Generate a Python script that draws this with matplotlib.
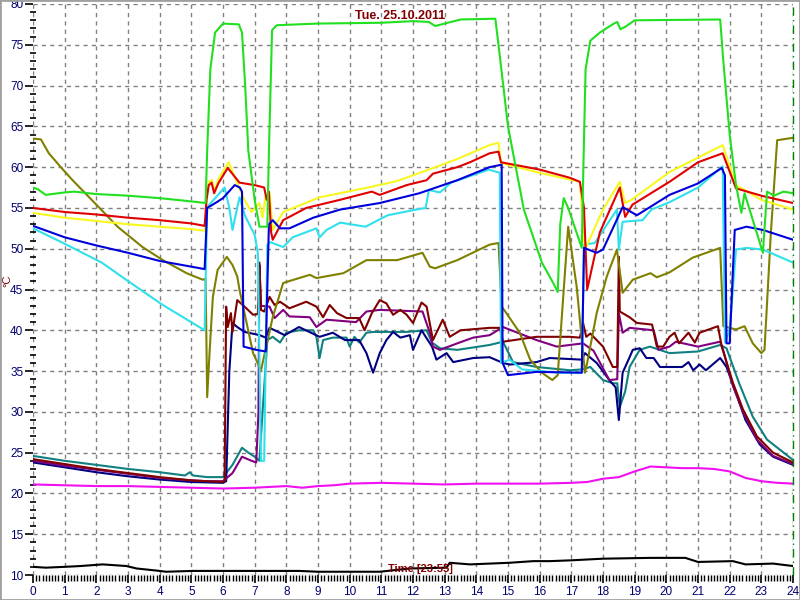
import matplotlib
matplotlib.use("Agg")
import matplotlib.pyplot as plt
from matplotlib.patches import Rectangle
from matplotlib.ticker import MultipleLocator

# ---------------- data (hours, °C) ----------------
green_t = [0, 0.15, 0.4, 1.0, 1.3, 2, 3, 4, 5, 5.45, 5.5, 5.6, 5.75, 6.0, 6.5, 6.6, 6.7, 6.8, 7.0, 7.15, 7.4,
           7.45, 7.55, 7.7, 9, 11, 12, 12.5, 12.7, 12.9, 13.5, 14.6, 14.7, 15.0, 15.5, 16.07, 16.4, 16.57,
           16.65, 16.76, 16.9, 17.33, 17.38, 17.45, 17.6, 17.9, 18.3, 18.45, 18.55, 18.7, 19, 21.7, 21.8,
           22.0, 22.2, 22.37, 22.47, 23.05, 23.18, 23.4, 23.7, 24]
green_v = [57.5, 57.3, 56.6, 56.9, 57.0, 56.7, 56.5, 56.2, 55.8, 55.6, 62, 72, 76.5, 77.6, 77.5, 76.5, 70, 62,
           56, 52.7, 52.7, 62, 76.8, 77.4, 77.6, 77.7, 77.9, 77.8, 77.3, 77.5, 78.1, 78.2, 75, 65, 54.8, 48.3,
           46, 44.7, 53, 56.2, 55, 50.1, 60, 72, 75.5, 76.5, 77.5, 77.8, 76.9, 77.2, 78, 78.1, 73, 64, 57.8,
           54.4, 56.8, 49.5, 57, 56.5, 57.0, 56.8]

red_t = [0, 1, 2, 3, 4, 5, 5.42, 5.48, 5.55, 5.64, 5.72, 5.85, 6.15, 6.52, 7.0, 7.3, 7.38, 7.45, 7.52, 7.57,
         7.9, 8.63, 9.7, 10.7, 10.95, 11.8, 12.43, 12.63, 13.4, 13.8, 14.42, 14.7, 14.78, 16.0, 16.95, 17.27,
         17.4, 17.5, 17.9, 18.53, 18.7, 18.93, 20.1, 21.0, 21.78, 22.2, 23, 24]
red_v = [55.0, 54.5, 54.2, 53.8, 53.5, 53.1, 52.8, 56, 57.8, 58.1, 56.8, 58.0, 59.9, 58.1, 57.8, 57.5, 56, 57,
         52, 51.1, 53.5, 55.0, 56.0, 57.0, 56.6, 57.8, 58.4, 59.2, 60.0, 60.6, 61.7, 61.9, 60.6, 59.7, 58.7,
         58.2, 55, 45, 52, 57.5, 53.9, 55.4, 58.2, 60.6, 61.7, 57.4, 56.5, 55.6]

yellow_t = [0, 1, 2, 3, 4, 5, 5.42, 5.48, 5.55, 5.65, 5.72, 5.85, 6.18, 6.45, 6.68, 6.9, 7.15, 7.25, 7.35,
            7.47, 7.57, 7.9, 9.05, 10.7, 11.5, 12.5, 13.4, 14.42, 14.7, 14.78, 16.0, 17.27, 17.43, 18.0,
            18.53, 18.7, 18.9, 20.1, 21.78, 22.2, 23, 24]
yellow_v = [54.4, 53.8, 53.4, 53.0, 52.7, 52.4, 52.2, 56, 58.2, 58.4, 57, 58.5, 60.6, 58, 56, 54.5, 55.6, 53.8,
            56.6, 56.8, 52.3, 54.5, 56.3, 57.6, 58.3, 59.7, 61.0, 62.7, 63.0, 60.5, 59.3, 58.2, 49.9, 54.8,
            58.2, 55.6, 56, 59.4, 62.7, 57.8, 56, 54.8]

blue_t = [0, 1, 2, 3, 4, 5, 5.42, 5.5, 5.8, 6.0, 6.37, 6.53, 6.6, 6.65, 7.05, 7.35, 7.45, 7.57, 7.8, 8.1,
          8.85, 9.7, 10.95, 12.2, 13.4, 14.42, 14.8, 14.83, 15.0, 15.9, 17.33, 17.4, 17.8, 18.0, 18.62,
          19.07, 20.1, 21.0, 21.75, 21.85, 21.9, 22.0, 22.16, 22.53, 23.05, 24]
blue_v = [52.8, 51.4, 50.4, 49.5, 48.5, 47.8, 47.5, 55, 55.7, 56.2, 57.8, 57.5, 57.0, 38, 37.6, 37.4, 53.0,
          53.5, 52.5, 52.5, 53.8, 54.8, 55.6, 56.8, 58.4, 60.0, 60.3, 36, 34.5, 34.9, 34.8, 50.1, 49.5, 49.9,
          55.1, 54.1, 56.6, 58, 59.9, 59, 38.4, 38.4, 52.3, 52.7, 52.3, 51.1]

cyan_t = [0, 0.9, 2.17, 3.05, 4.1, 5.42, 5.5, 6.05, 6.2, 6.3, 6.52, 6.7, 7.0, 7.1, 7.2, 7.3, 7.4, 7.5, 7.7,
          7.9, 8.2, 8.95, 9.05, 9.27, 9.7, 10.5, 11.2, 12.1, 12.4, 12.5, 12.85, 13.2, 14.4, 14.74, 14.78,
          15.05, 15.45, 16.63, 17.33, 17.4, 17.74, 18.44, 18.5, 18.62, 19.25, 19.53, 20.1, 21.0, 21.78,
          21.85, 22.0, 22.2, 22.53, 23.05, 24]
cyan_v = [52.5, 50.8, 48.3, 45.9, 43.1, 40.0, 55.1, 57.5, 55, 52.3, 56.3, 54, 51.7, 49.5, 24, 24, 50.5, 50.8,
          50.5, 50.2, 51.4, 52.5, 51.4, 52.3, 53.2, 52.7, 54.1, 54.8, 55, 57.2, 56.9, 58.1, 59.7, 59.3, 36,
          36.4, 35.2, 34.8, 34.8, 50.5, 50.7, 54.8, 49.9, 53.3, 53.5, 54.8, 55.7, 57.5, 60.1, 38.5, 40, 49.9,
          50.1, 49.9, 48.3]

olive_t = [0, 0.25, 0.5, 0.9, 1.25, 1.7, 2.1, 2.67, 3.46, 4.1, 4.85, 5.36, 5.45, 5.5, 5.58, 5.68, 5.83,
           6.12, 6.3, 6.45, 6.52, 6.95, 7.2, 7.57, 7.9, 8.74, 8.95, 9.8, 10.53, 11.5, 12.3, 12.53, 12.7,
           13.4, 14.42, 14.7, 14.8, 14.95, 15.37, 15.7, 16.07, 16.4, 16.57, 16.9, 17.17, 17.43, 17.5, 17.8,
           18.12, 18.44, 18.62, 18.94, 19.5, 19.7, 20.1, 20.83, 21.7, 21.8, 22.2, 22.47, 22.73, 23.0, 23.1,
           23.3, 23.5, 24]
olive_v = [63.5, 63.4, 61.7, 59.9, 58.4, 56.6, 55.0, 52.7, 50.2, 48.6, 47.0, 46.2, 46.3, 31.8, 37.6, 44.1,
           47.4, 49.0, 48.0, 46.6, 45, 37.2, 35.1, 41.6, 45.8, 46.8, 46.4, 47.0, 48.6, 48.6, 49.5, 47.8, 47.6,
           48.6, 50.5, 50.7, 42.9, 42.1, 39.7, 36.4, 34.8, 33.9, 34.5, 52.7, 45.3, 34.8, 36, 42.1, 46.6, 49.9,
           44.6, 46.2, 47.0, 46.5, 47.1, 48.9, 50.1, 40.5, 40.1, 40.5, 38.4, 37.2, 37.6, 51.9, 63.3, 63.6]

maroon_t = [0, 1, 2, 3, 4, 5, 6.0, 6.05, 6.1, 6.15, 6.25, 6.3, 6.45, 6.68, 6.95, 7.1, 7.15, 7.2, 7.3, 7.47,
            7.63, 7.8, 8.1, 8.63, 8.95, 9.16, 9.37, 9.6, 9.9, 10.3, 10.47, 10.7, 10.95, 11.16, 11.37, 11.6,
            11.8, 12.0, 12.27, 12.43, 12.63, 12.94, 13.16, 13.5, 14.42, 14.74, 14.84, 15.9, 16.95, 17.27,
            17.37, 17.47, 17.6, 18.0, 18.31, 18.45, 18.5, 18.53, 18.84, 19.07, 19.55, 19.7, 19.9, 20.1,
            20.26, 20.4, 20.7, 20.9, 21.05, 21.63, 21.75, 22.1, 22.42, 22.86, 23.37, 24]
maroon_v = [24.2, 23.6, 23.0, 22.5, 22.0, 21.6, 21.4, 21.5, 42.9, 40.4, 42.1, 39.8, 43.7, 42.9, 41.9, 42.0,
            48.3, 42.5, 42.3, 44.1, 43.1, 43.5, 42.7, 43.5, 42.9, 41.6, 43.1, 42.1, 41.5, 41.5, 40.0, 42.1,
            43.7, 43.3, 41.9, 42.5, 41.9, 40.9, 43.4, 42.9, 38.8, 41.3, 39.2, 40.0, 40.3, 40.3, 38.6, 39.2,
            39.2, 39.1, 40.9, 39.2, 39.6, 38.0, 35.5, 35.5, 49.0, 42.3, 41.6, 40.9, 40.7, 38.0, 38.0, 39.2,
            39.7, 38.4, 39.7, 38.5, 39.7, 40.5, 38, 33.6, 30.3, 27.0, 25.0, 23.8]

purple_t = [0, 1, 2, 3, 4, 5, 5.5, 6.0, 6.3, 6.6, 6.9, 7.05, 7.12, 7.15, 7.2, 7.47, 7.63, 7.9, 8.1, 8.74,
            8.95, 9.27, 10.2, 10.53, 10.95, 12.3, 12.53, 12.63, 12.85, 13.4, 13.9, 14.42, 14.84, 15.9, 16.54,
            17.37, 17.7, 18.2, 18.45, 18.5, 18.62, 18.84, 19.6, 19.75, 20.1, 20.3, 21.0, 21.7, 21.8, 22.1,
            22.42, 22.86, 23.37, 24]
purple_v = [24.0, 23.4, 22.9, 22.4, 21.9, 21.6, 21.5, 21.5, 22.5, 24.5, 24.0, 23.8, 30, 48.0, 43, 42.9,
            41.5, 42.5, 41.7, 41.6, 40.4, 41.3, 41.0, 42.3, 42.5, 42.3, 39.7, 38.0, 37.6, 38.4, 39.1, 39.4,
            40.4, 38.8, 38.0, 38.4, 37.5, 33.9, 34.0, 42.1, 39.7, 40.3, 40.0, 37.6, 38.0, 38.6, 38.0, 38.6,
            37.5, 33.2, 30, 26.6, 24.6, 23.6]

navy_t = [0, 1, 2, 3, 4, 5, 6.0, 6.1, 6.2, 6.3, 6.45, 6.68, 7.16, 7.35, 7.47, 7.95, 8.4, 9.05, 9.47, 9.85,
          10.3, 10.53, 10.74, 10.95, 11.16, 11.37, 11.6, 11.9, 12.0, 12.27, 12.6, 12.74, 13.06, 13.27, 13.9,
          14.42, 14.84, 15.06, 15.9, 16.32, 17.33, 17.43, 17.8, 18.2, 18.4, 18.5, 18.62, 18.84, 18.94, 19.16,
          19.37, 19.6, 19.8, 20.1, 20.5, 20.7, 20.85, 21.05, 21.25, 21.7, 21.9, 22.2, 22.5, 22.95, 23.37, 24]
navy_v = [23.8, 23.2, 22.6, 22.1, 21.7, 21.4, 21.3, 21.5, 35, 40.9, 40.4, 39.8, 39.4, 39.1, 40.3, 39.4, 40.4,
          39.2, 39.7, 38.8, 38.8, 37.2, 34.8, 37.2, 38.8, 39.8, 39.1, 39.4, 37.6, 40.0, 38.0, 36.4, 37.2,
          36.1, 36.6, 36.7, 36.0, 35.8, 36.1, 36.6, 36.4, 37.2, 36.0, 33.9, 33.0, 29.0, 34.8, 36.7, 37.6,
          37.8, 36.6, 36.6, 35.5, 35.5, 35.5, 36.1, 35.1, 35.8, 35.1, 36.6, 35.5, 32.3, 29.0, 26.0, 24.5, 23.5]

teal_t = [0, 1, 2, 3, 4, 4.8, 4.95, 5.05, 5.5, 6.0, 6.3, 6.6, 6.8, 7.0, 7.15, 7.25, 7.4, 7.57, 7.8, 8.0,
          8.4, 8.85, 8.95, 9.05, 9.16, 9.47, 9.9, 10.0, 10.15, 10.3, 10.53, 10.74, 11.8, 12.43, 12.6, 12.85,
          13.4, 14.42, 14.84, 15.16, 15.9, 16.95, 17.33, 17.6, 18.0, 18.31, 18.45, 18.53, 18.7, 18.84,
          19.16, 19.48, 20.1, 21.0, 21.7, 21.9, 22.3, 22.73, 23.18, 24]
teal_v = [24.6, 24.0, 23.5, 23.0, 22.6, 22.2, 22.6, 22.2, 22.0, 22.0, 23.5, 25.6, 25.0, 24.5, 24.0, 30,
          38.8, 39.2, 38.5, 39.7, 40.0, 40.0, 39.2, 36.6, 38.8, 39.1, 39.1, 38.0, 39.2, 38.5, 39.7, 39.8,
          39.8, 40.0, 38.5, 37.8, 37.6, 38.2, 38.6, 36.1, 35.5, 35.1, 35.2, 35.5, 33.9, 33.5, 33.5, 30.6,
          32.5, 35.5, 37.6, 38.0, 37.2, 37.4, 38.2, 37.8, 33.5, 29.4, 26.6, 24.1]

magenta_t = [0, 1, 2, 3, 4, 5, 6, 7, 8, 8.5, 9, 9.5, 10, 11, 12, 13, 14, 15, 16, 17, 17.5, 18, 18.5, 19,
             19.5, 20, 20.5, 21, 21.5, 22, 22.5, 23, 23.5, 24]
magenta_v = [21.1, 21.0, 20.9, 20.9, 20.8, 20.7, 20.6, 20.7, 20.9, 20.7, 20.9, 21.0, 21.2, 21.3, 21.2, 21.1,
             21.2, 21.2, 21.2, 21.3, 21.4, 21.8, 22.0, 22.7, 23.3, 23.2, 23.1, 23.1, 23.0, 22.7, 21.9, 21.5,
             21.3, 21.2]

black_t = [0, 0.4, 1, 1.5, 2.2, 2.95, 3.27, 4.0, 4.2, 5.05, 6, 7, 8.4, 9, 10, 10.95, 11.9, 13.06, 13.16,
           13.8, 15.05, 15.8, 16.32, 17, 18, 19.5, 20.6, 21.0, 22.1, 22.5, 23.37, 24]
black_v = [11.0, 10.9, 11.0, 11.1, 11.3, 11.1, 10.8, 10.5, 10.4, 10.5, 10.5, 10.5, 10.5, 10.4, 10.4, 10.4,
           10.8, 10.9, 11.5, 11.3, 11.5, 11.7, 11.7, 11.8, 12.0, 12.1, 12.1, 11.6, 11.7, 11.3, 11.4, 11.1]

x_ticks = list(range(0, 25))
y_ticks = list(range(10, 81, 5))
title_text = "Tue. 25.10.2011"
time_text = "Time [23:55]"
ylabel_text = "°C"

series = [
    (black_t, black_v, "#000000"),
    (magenta_t, magenta_v, "#f010f0"),
    (teal_t, teal_v, "#108080"),
    (navy_t, navy_v, "#000080"),
    (purple_t, purple_v, "#800080"),
    (maroon_t, maroon_v, "#800000"),
    (olive_t, olive_v, "#808000"),
    (cyan_t, cyan_v, "#30e0ec"),
    (yellow_t, yellow_v, "#f8f820"),
    (red_t, red_v, "#e00000"),
    (blue_t, blue_v, "#0000dc"),
    (green_t, green_v, "#20e020"),
]

# ---------------- figure ----------------
plt.rcParams["font.family"] = ["Liberation Sans", "DejaVu Sans"]
fig = plt.figure(figsize=(8, 6), dpi=100)
fig.patch.set_facecolor("white")
ax = fig.add_axes([33 / 800, 25 / 600, 760 / 800, 571 / 600])

for t, v, c in series:
    ax.plot(t, v, color=c, lw=1.5, solid_joinstyle="round", zorder=3)

ax.axvline(24, color="#008000", lw=1.0, ls=(0, (6, 3, 1, 3)), clip_on=False, zorder=4)

ax.set_xlim(0, 24)
ax.set_ylim(10, 80)
ax.set_xticks(x_ticks)
ax.set_yticks(y_ticks)
ax.xaxis.set_minor_locator(MultipleLocator(0.1))
ax.yaxis.set_minor_locator(MultipleLocator(1))
ax.grid(True, which="major", color="#808080", ls=(0, (3, 3)), lw=1.0, zorder=1)

for s in ax.spines.values():
    s.set_visible(False)

tc = "#000070"
ax.tick_params(axis="y", which="major", direction="out", length=6, width=1.2, color="black",
               labelsize=8.5, labelcolor=tc, pad=1)
ax.tick_params(axis="y", which="minor", direction="inout", length=4, width=1.2, color="black")
ax.tick_params(axis="x", which="major", direction="out", length=6, width=1.2, color="black",
               labelsize=8.5, labelcolor=tc, pad=2)
ax.tick_params(axis="x", which="minor", direction="out", length=4, width=1.0, color="black")

fig.text(400 / 800, 1 - 16 / 600, title_text, color="#800000", fontsize=9, fontweight="bold",
         ha="center", va="center")
fig.text(420 / 800, 1 - 569 / 600, time_text, color="#800000", fontsize=8, fontweight="bold",
         ha="center", va="center", zorder=5)
fig.text(7 / 800, 1 - 281 / 600, ylabel_text, color="#800000", fontsize=8, rotation=90,
         ha="center", va="center")

fig.patches.append(Rectangle((0, 0), 1, 1, transform=fig.transFigure, fill=False,
                             edgecolor="#a0a0a0", lw=2, zorder=10))

fig.savefig("out.png", dpi=100)
